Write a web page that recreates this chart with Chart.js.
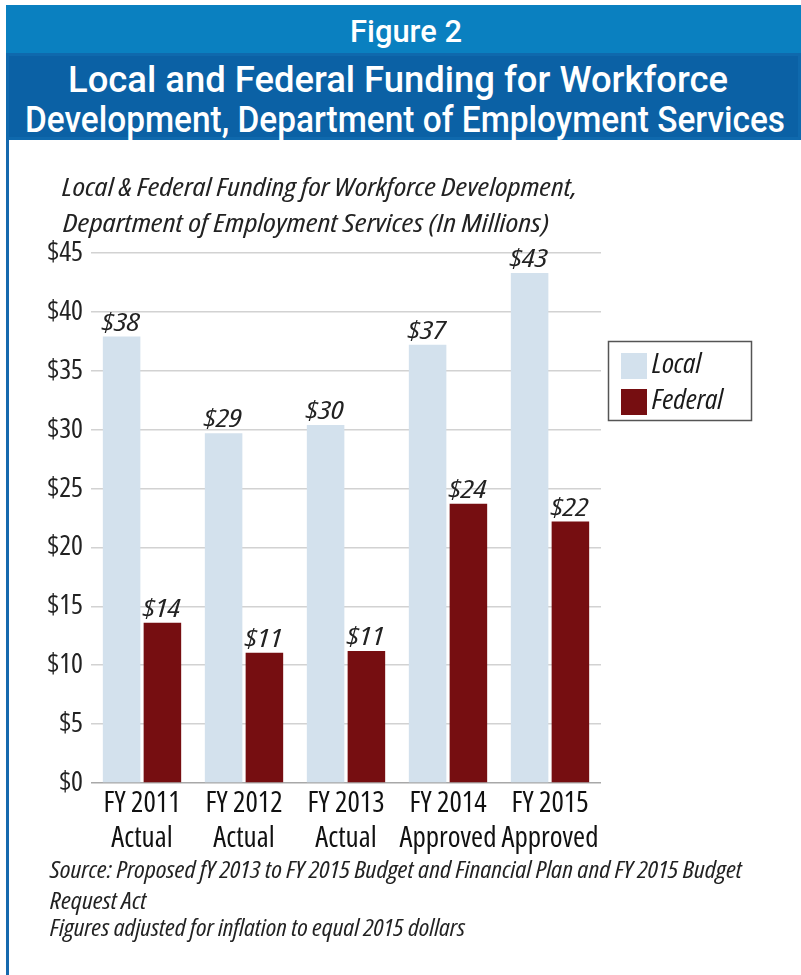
<!DOCTYPE html>
<html>
<head>
<meta charset="utf-8">
<script src="https://cdn.jsdelivr.net/npm/chart.js@4.4.1/dist/chart.umd.min.js"></script>
<style>
html,body{margin:0;padding:0;background:#fff;width:801px;height:975px;overflow:hidden;}
#leftline{position:absolute;left:6px;top:5px;width:3px;height:970px;background:#1669ae;}
#fig{position:absolute;left:6px;top:5px;width:795px;height:48px;background:#0a80c0;}
#ttl{position:absolute;left:6px;top:53px;width:795px;height:87px;background:#0b61a5;box-sizing:border-box;border:3px solid #0f69ad;}
.ht{position:absolute;color:#fff;white-space:nowrap;font-family:Roboto,"Liberation Sans",sans-serif;font-weight:500;transform-origin:0 0;line-height:1;}
#chart{position:absolute;left:9px;top:140px;}
</style>
</head>
<body>
<div id="leftline"></div>
<div id="fig"></div>
<div id="ttl"></div>
<span class="ht" id="h0">Figure 2</span>
<span class="ht" id="h1">Local and Federal Funding for Workforce</span>
<span class="ht" id="h2">Development, Department of Employment Services</span>
<canvas id="chart" width="792" height="835"></canvas>
<script>
// ---------- data ----------
const categories = [["FY 2011","Actual"],["FY 2012","Actual"],["FY 2013","Actual"],["FY 2014","Approved"],["FY 2015","Approved"]];
const seriesNames = ["Local","Federal"];
const localValues = [37.9, 29.7, 30.4, 37.2, 43.3];
const federalValues = [13.6, 11.05, 11.2, 23.7, 22.2];
const localLabels = ["$38","$29","$30","$37","$43"];
const federalLabels = ["$14","$11","$11","$24","$22"];
const yTicks = [0,5,10,15,20,25,30,35,40,45];
const chartTitle = ["Local & Federal Funding for Workforce Development,","Department of Employment Services (In Millions)"];
const notes = ["Source: Proposed fY 2013 to FY 2015 Budget and Financial Plan and FY 2015 Budget","Request Act","Figures adjusted for inflation to equal 2015 dollars"];

const colors = ["#d3e1ed","#760e11"];

// ---------- font selection (condensed face if available) ----------
const T='FY 2011 Approved $45';
function hasFont(f){
  const c=document.createElement('canvas').getContext('2d');
  for(const base of ['monospace','serif']){
    c.font='40px '+base; const a=c.measureText(T+'mmwwii').width;
    c.font='40px "'+f+'", '+base; const b=c.measureText(T+'mmwwii').width;
    if(Math.abs(a-b)<0.5) return false;
  }
  return true;
}
function stretchRatio(fam,kw){
  const c=document.createElement('canvas').getContext('2d');
  c.font='40px "'+fam+'", monospace';
  const a=c.measureText(T).width;
  c.font='10px serif';
  c.font=kw+' 40px "'+fam+'", monospace';
  if(!/40px/.test(c.font)) return 1;
  return c.measureText(T).width/a;
}
let fam='"Liberation Sans"', kw='';
(function(){
  for(const f of ['Open Sans','Noto Sans','Roboto','DejaVu Sans','Liberation Sans']){
    if(!hasFont(f)) continue;
    for(const k of ['condensed','semi-condensed']){
      if(stretchRatio(f,k)<0.93){fam='"'+f+'"';kw=k;return;}
    }
  }
  for(const f of ['Liberation Sans Narrow','DejaVu Sans Condensed','Roboto Condensed']){
    if(hasFont(f)){fam='"'+f+'"';kw='';return;}
  }
})();
const family = fam+', "Liberation Sans", sans-serif';
function fstr(size,italic){return (italic?'italic ':'normal ')+(kw?kw+' ':'')+size+'px '+family;}
const mctx=document.createElement('canvas').getContext('2d');
function mw(text,size,italic){mctx.font=fstr(size,italic);return mctx.measureText(text).width;}
const xSize=Math.min(31, 84/mw('FY 2011',1), 97/mw('Approved',1));
const ySize=Math.min(28, 40/mw('$45',1));

// ---------- header fit ----------
function fitSpan(id, size, cx, cy, target){
  const el=document.getElementById(id);
  el.style.fontSize=size+'px';
  const r=el.getBoundingClientRect();
  const s=target/r.width;
  el.style.transform='scaleX('+s+')';
  el.style.left=(cx-target/2)+'px';
  el.style.top=(cy-r.height/2+1)+'px';
}
fitSpan('h0',31,406,30,112);
fitSpan('h1',36,398,79,660);
fitSpan('h2',36,405,119,760);

// ---------- canvas text helper ----------
function drawScaled(ctx,text,x,y,size,italic,sx,align,color){
  ctx.save();
  ctx.font=fstr(size,italic);
  ctx.fillStyle=color||'#1a1a1a';
  ctx.textBaseline='alphabetic';
  ctx.textAlign='left';
  const w=ctx.measureText(text).width*sx;
  let x0=x;
  if(align==='center') x0=x-w/2; else if(align==='right') x0=x-w;
  ctx.translate(x0,y);
  ctx.scale(sx,1);
  ctx.fillText(text,0,0);
  ctx.restore();
}

const decor = {
  id:'decor',
  afterDatasetsDraw(chart){
    const ctx=chart.ctx;
    const lab=[localLabels,federalLabels];
    const s0=38/mw('$38',25,true);
    chart.data.datasets.forEach((ds,i)=>{
      chart.getDatasetMeta(i).data.forEach((bar,j)=>{
        drawScaled(ctx,lab[i][j],bar.x-1,bar.y-6,25,true,s0,'center','#222');
      });
    });
  },
  afterDraw(chart){
    const ctx=chart.ctx;
    // chart title
    drawScaled(ctx,chartTitle[0],53,56,26,true,515/mw(chartTitle[0],26,true),'left','#222');
    drawScaled(ctx,chartTitle[1],54,92,26,true,486/mw(chartTitle[1],26,true),'left','#222');
    // legend
    const ca=chart.chartArea;
    const lx=ca.right+7, ly=201, lw=143, lh=79;
    ctx.save();
    ctx.strokeStyle='#555';ctx.lineWidth=1.5;
    ctx.strokeRect(lx+0.5,ly+0.5,lw,lh);
    chart.data.datasets.forEach((ds,i)=>{
      ctx.fillStyle=ds.backgroundColor;
      ctx.fillRect(lx+13,ly+12+i*36,26,26);
    });
    ctx.restore();
    const sl=49/mw(seriesNames[0],27,true);
    drawScaled(ctx,seriesNames[0],lx+44,ly+32,27,true,sl,'left','#1a1a1a');
    drawScaled(ctx,seriesNames[1],lx+44,ly+68,27,true,sl,'left','#1a1a1a');
    // notes
    const sn=692/mw(notes[0],23,true);
    drawScaled(ctx,notes[0],41,738,23,true,sn,'left','#222');
    drawScaled(ctx,notes[1],41,769,23,true,sn,'left','#222');
    drawScaled(ctx,notes[2],41,796,23,true,415/mw(notes[2],23,true),'left','#222');
  }
};

new Chart(document.getElementById('chart'),{
  type:'bar',
  data:{
    labels:categories,
    datasets:[
      {label:seriesNames[0],data:localValues,backgroundColor:colors[0],borderWidth:0},
      {label:seriesNames[1],data:federalValues,backgroundColor:colors[1],borderWidth:0}
    ]
  },
  options:{
    responsive:false,
    animation:false,
    devicePixelRatio:1,
    categoryPercentage:0.8,
    barPercentage:0.92,
    layout:{padding:{top:113,right:200,bottom:112,left:0}},
    plugins:{legend:{display:false},title:{display:false},tooltip:{enabled:false}},
    scales:{
      x:{
        grid:{display:false,drawTicks:false},
        border:{display:false},
        ticks:{color:'#111',padding:3,font:{family:family,weight:kw?('normal '+kw):'normal',size:xSize,lineHeight:'35px'},maxRotation:0,autoSkip:false},
        afterFit(s){s.height=80;}
      },
      y:{
        min:0,max:45,
        afterBuildTicks(s){s.ticks=yTicks.map(v=>({value:v}));},
        grid:{drawTicks:false,color:c=>c.tick&&c.tick.value===0?'#a8a8a8':'#d2d2d2',lineWidth:1.5},
        border:{display:false},
        ticks:{color:'#222',padding:8,font:{family:family,weight:kw?('normal '+kw):'normal',size:ySize},callback:v=>'$'+v},
        afterFit(s){s.width=82;}
      }
    }
  },
  plugins:[decor]
});
</script>
</body>
</html>
